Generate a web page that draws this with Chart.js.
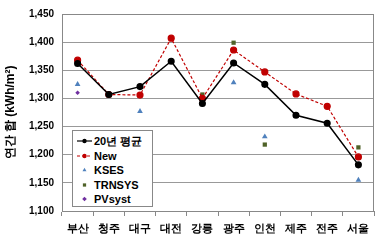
<!DOCTYPE html>
<html>
<head>
<meta charset="utf-8">
<script src="https://cdn.jsdelivr.net/npm/chart.js@4"></script>
<style>
body{margin:0;background:#fff;}
#wrap{position:relative;width:382px;height:245px;}
#legend{position:absolute;left:72px;top:130px;width:81px;height:77px;border:1px solid #888;background:#fff;
font-family:"Liberation Sans",Arial,sans-serif;font-weight:bold;font-size:11px;box-sizing:border-box;padding:3px 0 0 3px;}
#legend div{height:14.6px;line-height:14.6px;white-space:nowrap;}
#legend canvas{vertical-align:middle;margin-right:1px;position:relative;top:-1px;}
</style>
</head>
<body>
<div id="wrap">
<canvas id="c" width="382" height="245"></canvas>
<div id="legend"></div>
</div>
<script>
// Annual sum by city

const cities=["부산","청주","대구","대전","강릉","광주","인천","제주","전주","서울"];
const avg20=[1362,1307,1321,1366,1291,1363,1325,1270,1256,1182];
const newModel=[1368,1307,1306,1407,1300,1386,1347,1308,1286,1196];
const kses=[1325,null,1277,1366,null,1328,1232,null,null,1155];
const trnsys=[null,null,null,null,1307,1399,1218,null,null,1213];
const pvsyst=[1310,null,null,null,1297,null,null,null,null,1183];
const yTicks=[1100,1150,1200,1250,1300,1350,1400,1450];

const font="'Liberation Sans', Arial, sans-serif";

let chart=new Chart(
document.getElementById("c"),
{
type:"line",
data:{
labels:cities,
datasets:[
{label:"20년 평균",data:avg20,borderColor:"#000",backgroundColor:"#000",borderWidth:1.5,pointRadius:2.8,pointStyle:"circle"},
{label:"New",data:newModel,borderColor:"#C00000",backgroundColor:"#C00000",borderWidth:1.2,borderDash:[3,2],pointRadius:3,pointStyle:"circle"},
{label:"KSES",data:kses,showLine:false,borderColor:"#4F81BD",backgroundColor:"#4F81BD",pointRadius:3.3,pointStyle:"triangle",borderWidth:0},
{label:"TRNSYS",data:trnsys,showLine:false,borderColor:"#4F6228",backgroundColor:"#4F6228",pointRadius:3,pointStyle:"rect",borderWidth:0},
{label:"PVsyst",data:pvsyst,showLine:false,borderColor:"#7030A0",backgroundColor:"#7030A0",pointRadius:2.3,pointStyle:"rectRot",borderWidth:0}
]
},
options:{
responsive:false,
animation:false,
layout:{padding:{left:3,right:8,top:7,bottom:4}},
plugins:{legend:{display:false},tooltip:{enabled:false}},
scales:{
x:{
offset:true,
grid:{offset:true,drawOnChartArea:false,color:"#888",tickLength:5},
border:{color:"#888"},
ticks:{color:"#000",font:{family:font,size:11,weight:"bold"},maxRotation:0,padding:6},
afterFit:s=>{s.height=30;}
},
y:{
min:1100,max:1450,
afterBuildTicks:s=>{s.ticks=yTicks.map(v=>({value:v}));},
grid:{color:"#999",drawTicks:false},
border:{color:"#888"},
ticks:{color:"#000",font:{family:font,size:10,weight:"bold"},padding:8,callback:v=>v.toLocaleString("en-US")},
title:{display:true,text:"연간 합 (kWh/m²)",color:"#000",font:{family:font,size:12,weight:"bold"},padding:{top:0,bottom:1}},
afterFit:s=>{s.width=59;}
}
}
},
plugins:[{
id:"frame",
afterDraw(c){
let a=c.chartArea,ctx=c.ctx;
ctx.save();
ctx.strokeStyle="#888";ctx.lineWidth=1;
ctx.strokeRect(a.left+0.5,a.top+0.5,a.right-a.left-1,a.bottom-a.top);
ctx.restore();
}
}]
}
);

// legend built from the datasets
let lg=document.getElementById("legend");
chart.data.datasets.forEach(ds=>{
let row=document.createElement("div");
let cv=document.createElement("canvas");
cv.width=17;cv.height=10;
let x=cv.getContext("2d");
if(ds.showLine!==false){
x.strokeStyle=ds.borderColor;x.lineWidth=1.2;
x.setLineDash(ds.borderDash||[]);
x.beginPath();x.moveTo(1,5);x.lineTo(16,5);x.stroke();
x.setLineDash([]);
}
x.fillStyle=ds.backgroundColor;
x.strokeStyle=ds.borderColor;
Chart.helpers.drawPoint(x,{pointStyle:ds.pointStyle,radius:ds.pointStyle==="circle"?2.2:2.3,borderWidth:0},8.5,5);
row.appendChild(cv);
row.appendChild(document.createTextNode(ds.label));
lg.appendChild(row);
});
</script>
</body>
</html>
